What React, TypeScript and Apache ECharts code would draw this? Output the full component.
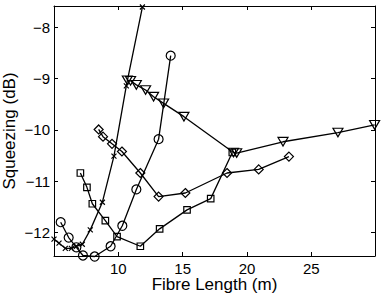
import React, { useEffect, useRef } from "react";
import * as echarts from "echarts";

const crossX = [5.0, 5.39, 5.88, 6.35, 6.74, 7.2, 7.82, 8.76, 9.66, 10.62, 11.87];
const crossY = [-12.13, -12.21, -12.31, -12.31, -12.27, -12.23, -11.95, -11.41, -10.51, -9.14, -7.6];

const circleX = [5.52, 6.14, 6.74, 7.25, 8.16, 9.4, 10.31, 11.4, 13.13, 14.07];
const circleY = [-11.8, -12.1, -12.29, -12.45, -12.47, -12.27, -11.87, -11.16, -10.18, -8.55];

const squareX = [7.05, 7.56, 7.98, 8.99, 9.9, 11.71, 13.21, 15.34, 17.18, 18.86];
const squareY = [-10.84, -11.12, -11.44, -11.77, -12.08, -12.27, -11.93, -11.56, -11.34, -10.44];

const diamondX = [8.47, 8.81, 9.51, 10.28, 11.71, 13.13, 15.21, 18.45, 20.91, 23.26];
const diamondY = [-9.99, -10.13, -10.27, -10.42, -10.84, -11.3, -11.23, -10.84, -10.77, -10.52];

const triX = [10.7, 10.95, 11.4, 12.12, 12.74, 13.52, 15.1, 18.95, 19.2, 22.8, 27.07, 29.92];
const triY = [-9.03, -9.04, -9.12, -9.22, -9.35, -9.48, -9.74, -10.44, -10.45, -10.23, -10.05, -9.9];

const xTicks = [10, 15, 20, 25];
const yTicks = [-12, -11, -10, -9, -8];

const zip = (xs: number[], ys: number[]) => xs.map((x, i) => [x, ys[i]]);

const FONT = "Liberation Sans, Arial, Helvetica, sans-serif";

export default function App() {
  const ref = useRef<HTMLDivElement>(null);
  useEffect(() => {
    if (!ref.current) return;
    const chart = echarts.init(ref.current, undefined, { renderer: "svg" });
    const xMin = 5, xMax = 29.95, yMin = -12.46, yMax = -7.58;
    const mk = (name: string, xs: number[], ys: number[], symbol: string, size: number | number[]) => ({
      type: "line",
      name,
      data: zip(xs, ys),
      symbol,
      symbolSize: size,
      showSymbol: true,
      clip: false,
      lineStyle: { color: "#000", width: 1.3 },
      itemStyle: { color: "rgba(0,0,0,0)", borderColor: "#000", borderWidth: 1.2 },
      z: 3,
    });
    const tickFmt = (v: number) => String(v).replace("-", "\u2212");
    chart.setOption({
      animation: false,
      backgroundColor: "#fff",
      grid: { left: 54, right: 7, top: 6, bottom: 39, show: false, containLabel: false, outerBoundsMode: "none" },
      xAxis: [
        {
          type: "value",
          min: xMin,
          max: xMax,
          position: "bottom",
          name: "Fibre Length (m)",
          nameLocation: "middle",
          nameGap: 20,
          nameMoveOverlap: false,
          nameTextStyle: { color: "#000", fontSize: 17, lineHeight: 17, fontFamily: FONT },
          axisLine: { show: true, lineStyle: { color: "#000", width: 1 } },
          axisTick: { show: true, inside: true, length: 4, customValues: xTicks, lineStyle: { color: "#000" } },
          axisLabel: { color: "#000", fontSize: 15, lineHeight: 14, fontFamily: FONT, margin: 5, customValues: xTicks },
          splitLine: { show: false },
        },
        {
          type: "value",
          min: xMin,
          max: xMax,
          position: "top",
          axisLine: { show: true, lineStyle: { color: "#000", width: 1 } },
          axisTick: { show: true, inside: true, length: 4, customValues: xTicks, lineStyle: { color: "#000" } },
          axisLabel: { show: false },
          splitLine: { show: false },
        },
      ],
      yAxis: [
        {
          type: "value",
          min: yMin,
          max: yMax,
          position: "left",
          name: "Squeezing (dB)",
          nameLocation: "middle",
          nameGap: 36,
          nameMoveOverlap: false,
          nameTextStyle: { color: "#000", fontSize: 17, lineHeight: 17, fontFamily: FONT },
          axisLine: { show: true, lineStyle: { color: "#000", width: 1 } },
          axisTick: { show: true, inside: true, length: 4, customValues: yTicks, lineStyle: { color: "#000" } },
          axisLabel: { color: "#000", fontSize: 15, lineHeight: 14, fontFamily: FONT, margin: 4, customValues: yTicks, formatter: tickFmt },
          splitLine: { show: false },
        },
        {
          type: "value",
          min: yMin,
          max: yMax,
          position: "right",
          axisLine: { show: true, lineStyle: { color: "#000", width: 1 } },
          axisTick: { show: true, inside: true, length: 4, customValues: yTicks, lineStyle: { color: "#000" } },
          axisLabel: { show: false },
          splitLine: { show: false },
        },
      ],
      series: [
        mk("cross", crossX, crossY, "path://M0,0L10,10M10,0L0,10", 5),
        mk("circle", circleX, circleY, "circle", 9),
        mk("square", squareX, squareY, "rect", 6.5),
        mk("diamond", diamondX, diamondY, "diamond", 9),
        mk("triangle", triX, triY, "path://M0,0L10,0L5,8.66Z", [10, 8.66]),
      ],
    });
    return () => chart.dispose();
  }, []);
  return <div ref={ref} style={{ width: 382, height: 295, position: "absolute", left: 0, top: 0 }} />;
}
